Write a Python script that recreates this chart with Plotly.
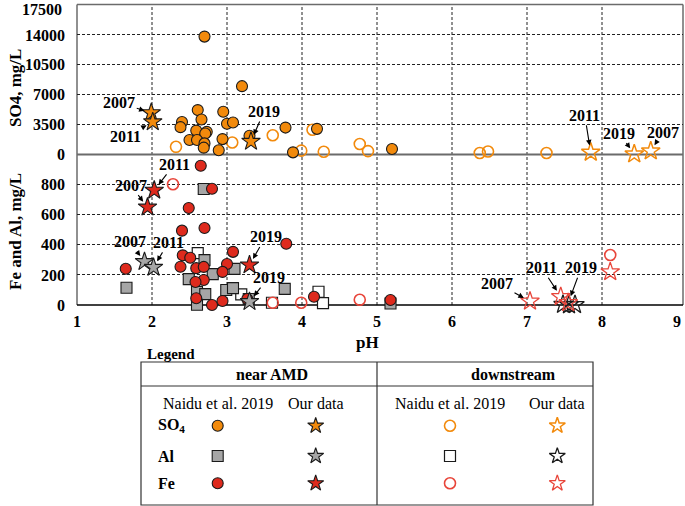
import plotly.graph_objects as go

# ---------------- data ----------------
ph_ticks = [1, 2, 3, 4, 5, 6, 7, 8, 9]
so4_ticks = [0, 3500, 7000, 10500, 14000, 17500]
so4_tick_text = ["0", "3500", "7000", "10500", "14000", ""]
so4_top_label = "17500"
feal_ticks = [0, 200, 400, 600, 800]

# Naidu et al. 2019 - near AMD (filled symbols)
so4_near_ph = [2.70, 3.20, 2.61, 2.95, 2.40, 2.66, 2.38, 3.00, 3.08, 2.59, 2.73, 2.71,
               2.50, 2.60, 2.94, 2.70, 2.69, 2.89, 3.30, 3.78, 3.88, 4.20, 5.20]
so4_near_val = [13800, 8000, 5200, 5000, 3800, 4100, 3200, 3600, 3750, 2800, 2650, 2450,
                1700, 1700, 1800, 1300, 800, 500, 2200, 3150, 250, 3000, 650]
al_near_ph = [1.66, 2.49, 2.70, 2.81, 2.60, 2.71, 2.60, 2.99, 3.08, 3.10, 3.29, 3.77, 2.69, 5.18]
al_near_val = [115, 172, 298, 205, 87, 72, 2, 100, 112, 240, 40, 107, 771, 10]
fe_near_ph = [2.65, 2.80, 2.49, 2.70, 2.40, 3.79, 1.65, 2.41, 2.51, 2.38, 2.59, 2.69,
              3.08, 3.00, 2.94, 2.69, 2.58, 2.59, 2.80, 2.94, 3.27, 4.16, 5.18]
fe_near_val = [925, 772, 645, 512, 494, 407, 241, 330, 314, 254, 245, 253,
               353, 272, 220, 166, 153, 45, 0, 27, 40, 55, 33]

# Naidu et al. 2019 - downstream (open symbols)
so4_down_ph = [2.32, 3.07, 3.61, 3.99, 4.14, 4.29, 4.77, 4.88, 6.37, 6.48, 7.26]
so4_down_val = [900, 1400, 2250, 450, 2900, 320, 1230, 400, 170, 350, 170]
al_down_ph = [2.61, 3.19, 3.60, 4.22, 4.28]
al_down_val = [345, 70, 15, 88, 12]
fe_down_ph = [2.28, 3.61, 3.99, 4.77, 8.11]
fe_down_val = [802, 15, 15, 35, 332]

# Our data - near AMD (filled stars)
so4_ours_near_year = ["2007", "2011", "2019"]
so4_ours_near_ph = [1.99, 2.01, 3.32]
so4_ours_near_val = [4880, 3820, 1530]
al_ours_near_year = ["2007", "2011", "2019"]
al_ours_near_ph = [1.90, 2.02, 3.30]
al_ours_near_val = [288, 250, 22]
fe_ours_near_year = ["2007", "2011", "2019"]
fe_ours_near_ph = [1.94, 2.03, 3.30]
fe_ours_near_val = [650, 762, 266]

# Our data - downstream (open stars)
so4_ours_down_year = ["2011", "2019", "2007"]
so4_ours_down_ph = [7.85, 8.43, 8.65]
so4_ours_down_val = [250, 50, 400]
al_ours_down_ph = [7.48, 7.56, 7.64]
al_ours_down_val = [3, 0, 2]
fe_ours_down_year = ["2007", "2011", "2019", "-"]
fe_ours_down_ph = [7.04, 7.45, 7.55, 8.11]
fe_ours_down_val = [25, 55, 15, 220]

# legend table texts
legend_groups = ["near AMD", "downstream"]
legend_sources = ["Naidu et al. 2019", "Our data"]
legend_rows = ["SO<sub>4</sub>", "Al", "Fe"]

# ---------------- styling ----------------
W, H = 685, 506
FONT = "Liberation Serif, 'Times New Roman', serif"
ORANGE = "#F28A0C"
RED = "#DE2A1D"
RED_OPEN = "#E8453A"
GRAY = "#A6A6A6"
EDGE = "#1a1a1a"


def PX(x):   # page pixel -> paper
    return x / W


def PY(y):
    return 1 - y / H


def filled(symbol, color, size=11):
    return dict(symbol=symbol, size=size, color=color, line=dict(color=EDGE, width=1.1))


def opened(symbol, color, size=11, width=1.6):
    return dict(symbol=symbol, size=size, color=color, line=dict(color=color, width=width))


ST = {
    "so4_near": filled("circle", ORANGE),
    "al_near": filled("square", GRAY),
    "fe_near": filled("circle", RED),
    "so4_down": opened("circle-open", ORANGE),
    "al_down": dict(symbol="square", size=11, color="white", line=dict(color=EDGE, width=1.2)),
    "fe_down": opened("circle-open", RED_OPEN),
    "so4_ours_near": filled("star", ORANGE, 14),
    "al_ours_near": filled("star", GRAY, 14),
    "fe_ours_near": filled("star", RED, 14),
    "so4_ours_down": opened("star-open", ORANGE, 14, 1.5),
    "al_ours_down": opened("star-open", EDGE, 14, 1.3),
    "fe_ours_down": opened("star-open", RED_OPEN, 14, 1.3),
}

fig = go.Figure()


def add(x, y, style, yaxis):
    fig.add_trace(go.Scatter(x=x, y=y, mode="markers", marker=ST[style],
                             xaxis="x", yaxis=yaxis, cliponaxis=False, hoverinfo="skip"))


# lower panel (Fe and Al)
add(al_down_ph, al_down_val, "al_down", "y")
add(al_near_ph, al_near_val, "al_near", "y")
add(fe_down_ph, fe_down_val, "fe_down", "y")
add(fe_near_ph, fe_near_val, "fe_near", "y")
# upper panel (SO4)
add(so4_down_ph, so4_down_val, "so4_down", "y2")
add(so4_near_ph, so4_near_val, "so4_near", "y2")
# our data
add(al_ours_near_ph, al_ours_near_val, "al_ours_near", "y")
add(fe_ours_near_ph, fe_ours_near_val, "fe_ours_near", "y")
add(al_ours_down_ph, al_ours_down_val, "al_ours_down", "y")
add(fe_ours_down_ph, fe_ours_down_val, "fe_ours_down", "y")
add(so4_ours_near_ph, so4_ours_near_val, "so4_ours_near", "y2")
add(so4_ours_down_ph, so4_ours_down_val, "so4_ours_down", "y2")

# ---------------- legend table glyphs ----------------
leg_col_x = [217.7, 315.7, 450.0, 557.3]
leg_row_y = [425.7, 456.0, 483.3]
leg_styles = [
    ["so4_near", "so4_ours_near", "so4_down", "so4_ours_down"],
    ["al_near", "al_ours_near", "al_down", "al_ours_down"],
    ["fe_near", "fe_ours_near", "fe_down", "fe_ours_down"],
]
for r, row in enumerate(leg_styles):
    for c, st in enumerate(row):
        m = dict(ST[st])
        if "star" in m["symbol"]:
            m["size"] = 12
        fig.add_trace(go.Scatter(x=[leg_col_x[c]], y=[leg_row_y[r]], mode="markers",
                                 marker=m, xaxis="x2", yaxis="y3",
                                 cliponaxis=False, hoverinfo="skip"))

# ---------------- shapes: grid & frame ----------------
shapes = []
DASH = "3px,2px"
for p in ph_ticks[1:-1]:
    shapes.append(dict(type="line", xref="x", yref="paper", x0=p, x1=p,
                       y0=PY(305), y1=PY(4.5), layer="between",
                       line=dict(color="#222", width=1, dash=DASH)))


def pline(x0, y0, x1, y1, color, width):
    shapes.append(dict(type="line", xref="paper", yref="paper", x0=PX(x0), x1=PX(x1),
                       y0=PY(y0), y1=PY(y1), layer="between",
                       line=dict(color=color, width=width)))


pline(77, 4.5, 683, 4.5, "#6b6b6b", 1.5)      # top
pline(683, 4.5, 683, 305, "#6b6b6b", 1.5)     # right
pline(77, 4.5, 77, 305, "#6b6b6b", 1.5)       # left
pline(77, 154.5, 683, 154.5, "#6b6b6b", 2.2)  # panel divider
pline(77, 305, 683, 305, "#000000", 1.5)      # bottom axis

# legend table
shapes.append(dict(type="rect", xref="paper", yref="paper", x0=PX(141), x1=PX(593),
                   y0=PY(505), y1=PY(362), line=dict(color="#333", width=1.2)))
shapes.append(dict(type="line", xref="paper", yref="paper", x0=PX(141), x1=PX(593),
                   y0=PY(386), y1=PY(386), line=dict(color="#333", width=1.2)))
shapes.append(dict(type="line", xref="paper", yref="paper", x0=PX(377), x1=PX(377),
                   y0=PY(362), y1=PY(505), line=dict(color="#333", width=1.2)))

# ---------------- annotations ----------------
ann = []


def text(x, y, s, size=16, bold=True, xanchor="center", angle=0):
    ann.append(dict(xref="paper", yref="paper", x=PX(x), y=PY(y), text=s, showarrow=False,
                    xanchor=xanchor, yanchor="middle", textangle=angle,
                    font=dict(family=FONT, size=size, color="black",
                              weight="bold" if bold else "normal")))


text(15, 88, "SO4, mg/L", 17, angle=-90)
text(15, 232, "Fe and Al, mg/L", 17, angle=-90)
text(367, 342, "pH", 17)
text(64, 10, so4_top_label, 16, xanchor="right")
text(145, 354, "Legend", 15, xanchor="left")
text(272, 374, legend_groups[0], 16)
text(513, 374, legend_groups[1], 16)
for cx, src in zip(leg_col_x, legend_sources * 2):
    text(cx, 403, src, 16, bold=False)
for ry, lab in zip(leg_row_y, legend_rows):
    text(156, ry, lab, 16, xanchor="left")


def label(xs, ys, years, i, yref, ax, ay):
    ann.append(dict(xref="x", yref=yref, x=xs[i], y=ys[i], text=years[i],
                    showarrow=True, ax=ax, ay=ay, arrowhead=2, arrowsize=1,
                    arrowwidth=1.1, arrowcolor="black", standoff=7,
                    font=dict(family=FONT, size=16, color="black", weight="bold")))


# SO4 labels
label(so4_ours_near_ph, so4_ours_near_val, so4_ours_near_year, 0, "y2", -32, -10)
label(so4_ours_near_ph, so4_ours_near_val, so4_ours_near_year, 1, "y2", -27, 15)
label(so4_ours_near_ph, so4_ours_near_val, so4_ours_near_year, 2, "y2", 13, -30)
label(so4_ours_down_ph, so4_ours_down_val, so4_ours_down_year, 0, "y2", -6, -37)
label(so4_ours_down_ph, so4_ours_down_val, so4_ours_down_year, 1, "y2", -15, -21)
label(so4_ours_down_ph, so4_ours_down_val, so4_ours_down_year, 2, "y2", 12, -19)
# Fe labels
label(fe_ours_near_ph, fe_ours_near_val, fe_ours_near_year, 0, "y", -17, -22)
label(fe_ours_near_ph, fe_ours_near_val, fe_ours_near_year, 1, "y", 20, -26)
label(fe_ours_near_ph, fe_ours_near_val, fe_ours_near_year, 2, "y", 16, -28)
label(fe_ours_down_ph, fe_ours_down_val, fe_ours_down_year, 0, "y", -33, -18)
label(fe_ours_down_ph, fe_ours_down_val, fe_ours_down_year, 1, "y", -19, -29)
label(fe_ours_down_ph, fe_ours_down_val, fe_ours_down_year, 2, "y", 13, -35)
# Al labels
label(al_ours_near_ph, al_ours_near_val, al_ours_near_year, 0, "y", -15, -20)
label(al_ours_near_ph, al_ours_near_val, al_ours_near_year, 1, "y", 15, -25)
label(al_ours_near_ph, al_ours_near_val, al_ours_near_year, 2, "y", 19, -24)

tickfont = dict(family=FONT, size=16, color="black", weight="bold")
fig.update_layout(
    width=W, height=H, margin=dict(l=0, r=0, t=0, b=0, autoexpand=False),
    plot_bgcolor="white", paper_bgcolor="white", showlegend=False,
    xaxis=dict(domain=[PX(77), PX(683)], range=[1, 9.08], tickvals=ph_ticks,
               showgrid=False, zeroline=False, showline=False, ticks="",
               tickfont=tickfont, anchor="y", ticklabelstandoff=5, automargin=False),
    yaxis=dict(domain=[PY(305), PY(154.5)], range=[0, 1000], tickvals=feal_ticks,
               showgrid=True, gridcolor="#222", gridwidth=1, griddash=DASH,
               zeroline=False, showline=False, ticks="", tickfont=tickfont,
               anchor="x", ticklabelstandoff=11, automargin=False),
    yaxis2=dict(domain=[PY(154.5), PY(4.5)], range=[0, 17560], tickvals=so4_ticks,
                ticktext=so4_tick_text,
                showgrid=True, gridcolor="#222", gridwidth=1, griddash=DASH,
                zeroline=False, showline=False, ticks="", tickfont=tickfont,
                anchor="x", ticklabelstandoff=11, automargin=False),
    xaxis2=dict(domain=[0, 1], range=[0, W], visible=False, anchor="y3",
                automargin=False),
    yaxis3=dict(domain=[0, PY(362)], range=[H, 362], visible=False, anchor="x2",
                automargin=False),
    shapes=shapes,
    annotations=ann,
)

fig.write_html("out.html", config={"displayModeBar": False},
               post_script="document.body.style.margin='0px';"
                           "document.body.style.overflow='hidden';")
